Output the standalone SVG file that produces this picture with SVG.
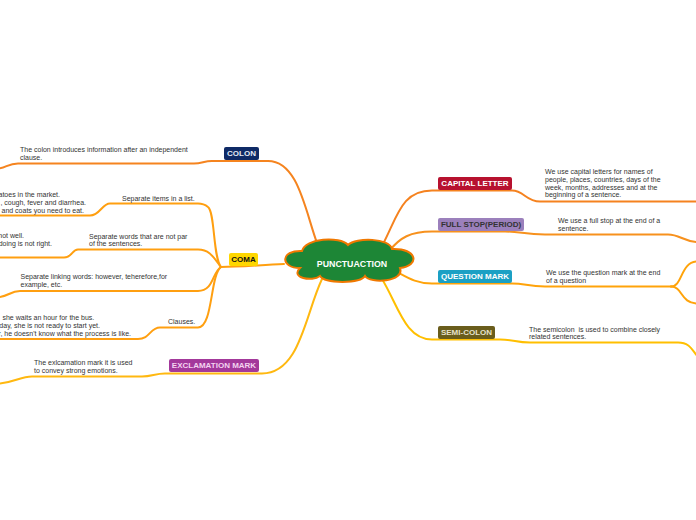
<svg xmlns="http://www.w3.org/2000/svg" width="696" height="520" viewBox="0 0 696 520">
<style>
.c{fill:none;stroke-width:2;stroke-linecap:round;stroke-linejoin:round}
.n{font-family:"Liberation Sans",Arial,sans-serif;font-size:7px;fill:#333}
.e{text-anchor:end}
.lbl{font-family:"Liberation Sans",Arial,sans-serif;font-size:8px;font-weight:bold;text-anchor:middle}
</style>
<rect width="696" height="520" fill="#ffffff"/>
<g id="connectors">
  <path class="c" stroke="#f5841f" d="M317,243 C305,210 298,161 268,161 L212,161 C204,161 202,163.5 194,163.5 L18,163.5 C8,163.5 6,168 -2,168.5"/>
  <path class="c" stroke="#ff9f10" d="M284,264 C260,265 240,267 221,267"/>
  <path class="c" stroke="#ff9f10" d="M221,267 C213,258 215,212 208,207 C205,204.5 203,203.5 198,203.5 L110,203.5 C102,203.5 100,215.5 90,215.5 L-2,215.5"/>
  <path class="c" stroke="#ff9f10" d="M221,267 C214,258 210,249.5 198,249.5 L78,249.5 C72,249.5 72,257.5 64,257.5 L-2,257.5"/>
  <path class="c" stroke="#ff9f10" d="M221,267 C212,272 214,291 198,291 L20,291 C10,291 8,297 -2,297"/>
  <path class="c" stroke="#ff9f10" d="M221,267 C210,275 213,327.5 198,327.5 L160,327.5 C150,327.5 150,339 138,339 L-2,339"/>
  <path class="c" stroke="#ffb810" d="M322,279 C305,315 300,373.5 262,373.5 L165,373.5 C155,373.5 152,376.5 142,376.5 L32,376.5 C20,376.5 14,383 -2,383.5"/>
  <path class="c" stroke="#f5821f" d="M383,244 C398,215 402,190.5 432,190.5 L512,190.5 C524,190.5 526,201.5 540,201.5 L698,201.5"/>
  <path class="c" stroke="#f7911d" d="M390,250 C400,238 410,231.5 432,231.5 L505,231.5 C520,231.5 525,234.5 545,234.5 L668,234.5 C680,234.5 684,242 698,242"/>
  <path class="c" stroke="#ffa30a" d="M399,273 C410,279 418,283.5 432,283.5 L512,283.5 C525,283.5 528,286.5 545,286.5 L671,286.5"/>
  <path class="c" stroke="#ffa30a" d="M671,286.5 C683,286.5 680,261.5 698,261.5"/>
  <path class="c" stroke="#ffa30a" d="M671,286.5 C683,286.5 680,303.5 698,303.5"/>
  <path class="c" stroke="#ffbf00" d="M382,279 C398,305 405,339.5 432,339.5 L500,339.5 C515,339.5 515,342.5 530,342.5 L678,342.5 C690,342.5 692,350 698,357"/>
</g>
<g id="central">
  <path d="M300,268 C280,268 280,250 302,251 C305,238 340,236 348,245 C356,237 390,238 392,249 C418,248 420,266 400,268 C405,282 370,284 365,276 C360,284 325,284 320,276 C312,282 290,278 300,268 Z" fill="#1d8636" stroke="#f07800" stroke-width="2"/>
  <text x="352" y="266.5" font-family="'Liberation Sans',Arial,sans-serif" font-size="8.8" font-weight="bold" fill="#ffffff" text-anchor="middle">PUNCTUACTION</text>
</g>
<g id="colon">
  <rect x="224" y="147" width="35" height="13" rx="2" fill="#0f2a66"/>
  <text class="lbl" x="241.5" y="156.4" fill="#e4e8f4">COLON</text>
</g>
<g id="colon-note">
  <text class="n" x="20" y="151.8">The colon introduces information after an independent</text>
  <text class="n" x="20" y="159.8">clause.</text>
</g>
<g id="coma">
  <rect x="229" y="253" width="29" height="13" rx="2" fill="#ffd700"/>
  <text class="lbl" x="243.5" y="262.4" fill="#111">COMA</text>
</g>
<g id="coma-items">
  <text class="n" x="122" y="201">Separate items in a list.</text>
</g>
<g id="coma-items-examples">
  <text class="n e" x="60" y="196.8">atoes in the market.</text>
  <text class="n e" x="86" y="205">, cough, fever and diarrhea.</text>
  <text class="n e" x="84" y="213.3">and coats you need to eat.</text>
</g>
<g id="coma-words">
  <text class="n" x="89" y="238.5">Separate words that are not par</text>
  <text class="n" x="89" y="246.2">of the sentences.</text>
</g>
<g id="coma-words-examples">
  <text class="n e" x="24" y="238.2">not well.</text>
  <text class="n e" x="52" y="246.2">doing is not right.</text>
</g>
<g id="coma-linking">
  <text class="n" x="20.5" y="279.2">Separate linking words: however, teherefore,for</text>
  <text class="n" x="20.5" y="287.2">example, etc.</text>
</g>
<g id="coma-clauses">
  <text class="n" x="168" y="323.5">Clauses.</text>
</g>
<g id="coma-clauses-examples">
  <text class="n e" x="94.3" y="319.5">she waits an hour for the bus.</text>
  <text class="n e" x="100" y="327.5">day, she is not ready to start yet.</text>
  <text class="n e" x="131" y="335.8">r, he doesn't know what the process is like.</text>
</g>
<g id="exclamation">
  <rect x="169" y="359" width="90" height="13" rx="2" fill="#a3389b"/>
  <text class="lbl" x="214" y="368.4" fill="#f3d3f0">EXCLAMATION MARK</text>
</g>
<g id="exclamation-note">
  <text class="n" x="34" y="365.2">The exlcamation mark it is used</text>
  <text class="n" x="34" y="373.2">to convey strong emotions.</text>
</g>
<g id="capital">
  <rect x="438" y="177" width="74" height="13" rx="2" fill="#b7112f"/>
  <text class="lbl" x="475" y="186.4" fill="#ffffff">CAPITAL LETTER</text>
</g>
<g id="capital-note">
  <text class="n" x="545" y="174.2">We use capital letters for names of</text>
  <text class="n" x="545" y="181.9">people, places, countries, days of the</text>
  <text class="n" x="545" y="189.6">week, months, addresses and at the</text>
  <text class="n" x="545" y="197.3">beginning of a sentence.</text>
</g>
<g id="fullstop">
  <rect x="438" y="218" width="86" height="13" rx="2" fill="#9b80bc"/>
  <text class="lbl" x="481" y="227.4" fill="#333">FULL STOP(PERIOD)</text>
</g>
<g id="fullstop-note">
  <text class="n" x="558" y="223.2">We use a full stop at the end of a</text>
  <text class="n" x="558" y="230.8">sentence.</text>
</g>
<g id="question">
  <rect x="438" y="270" width="74" height="13" rx="2" fill="#1ba0c4"/>
  <text class="lbl" x="475" y="279.4" fill="#ffffff">QUESTION MARK</text>
</g>
<g id="question-note">
  <text class="n" x="546" y="275.2">We use the question mark at the end</text>
  <text class="n" x="546" y="283.2">of a question</text>
</g>
<g id="semicolon">
  <rect x="438" y="326" width="57" height="13" rx="2" fill="#6a5d1c"/>
  <text class="lbl" x="466.5" y="335.4" fill="#e6e2cc">SEMI-COLON</text>
</g>
<g id="semicolon-note">
  <text class="n" x="529" y="331.5" xml:space="preserve">The semicolon  is used to combine closely</text>
  <text class="n" x="529" y="339.2">related sentences.</text>
</g>
</svg>
